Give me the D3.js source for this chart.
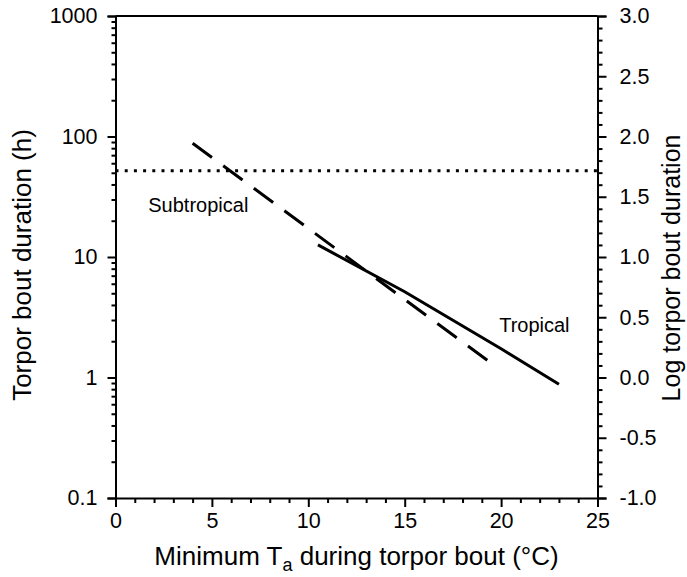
<!DOCTYPE html>
<html>
<head>
<meta charset="utf-8">
<script src="https://cdn.jsdelivr.net/npm/d3@7"></script>
<style>
  html, body { margin: 0; padding: 0; background: #fff; }
  text { font-family: "Liberation Sans", Arial, Helvetica, sans-serif; fill: #000; }
</style>
</head>
<body>
<svg id="chart" width="687" height="577"></svg>
<script>
// ---- data ----
const xTicks = [0, 5, 10, 15, 20, 25];
const yLeftTicks = [0.1, 1, 10, 100, 1000];
const yRightTicks = [-1.0, -0.5, 0.0, 0.5, 1.0, 1.5, 2.0, 2.5, 3.0];

const tropicalTa = [10.5, 15, 20, 23];
const tropicalDur = [12.6, 5.15, 1.73, 0.88];

const subtropicalTa = [4, 19.5];
const subtropicalDur = [88, 1.31];

const thresholdTa = [0, 25];
const thresholdDur = [52, 52];

const labelNames = ["Subtropical", "Tropical"];
const labelTa = [1.7, 19.9];
const labelDur = [23.6, 2.39];

// ---- layout ----
const svg = d3.select("#chart");
const L = 115.5, R = 597.5, T = 16, B = 498;

const x = d3.scaleLinear().domain([0, 25]).range([L, R]);
const y = d3.scaleLog().domain([0.1, 1000]).range([B, T]);
const yR = d3.scaleLinear().domain([-1, 3]).range([B, T]);

const tickFont = "21.5px";

// bottom axis
const xMinor = d3.range(0, 25.001, 1).filter(v => v % 5 !== 0);
const gx = svg.append("g").attr("transform", `translate(0,${B})`);
gx.call(d3.axisBottom(x).tickValues(xMinor).tickSize(5).tickFormat(""));
gx.call(g => g.select(".domain").remove());
const gx2 = svg.append("g").attr("transform", `translate(0,${B})`);
gx2.call(d3.axisBottom(x).tickValues(xTicks).tickSize(9).tickPadding(6).tickFormat(d3.format("d")));
gx2.selectAll("text").style("font-size", tickFont);

// left axis
const yMinor = [];
[0.1, 1, 10, 100].forEach(d => { for (let k = 2; k <= 9; k++) yMinor.push(d * k); });
const gy = svg.append("g").attr("transform", `translate(${L},0)`);
gy.call(d3.axisLeft(y).tickValues(yMinor).tickSize(4).tickFormat(""));
gy.call(g => g.select(".domain").remove());
const gy2 = svg.append("g").attr("transform", `translate(${L},0)`);
gy2.call(d3.axisLeft(y).tickValues(yLeftTicks).tickSize(8).tickPadding(10).tickFormat(d => String(d)));
gy2.selectAll("text").style("font-size", tickFont);

// right axis
const yRMinor = d3.range(-10, 31, 1).map(v => v / 10).filter(v => Math.abs(v * 2 - Math.round(v * 2)) > 1e-6);
const gr = svg.append("g").attr("transform", `translate(${R},0)`);
gr.call(d3.axisRight(yR).tickValues(yRMinor).tickSize(5).tickFormat(""));
gr.call(g => g.select(".domain").remove());
const gr2 = svg.append("g").attr("transform", `translate(${R},0)`);
gr2.call(d3.axisRight(yR).tickValues(yRightTicks).tickSize(9).tickPadding(13)
  .tickFormat(d => d3.format(".1f")(d).replace("\u2212", "-")));
gr2.selectAll("text").style("font-size", tickFont);

svg.selectAll(".domain").attr("stroke-width", 2);
svg.selectAll(".tick line").attr("stroke-width", 2);

// top border
svg.append("line").attr("x1", L).attr("x2", R).attr("y1", T).attr("y2", T)
  .attr("stroke", "#000").attr("stroke-width", 2);

// lines
const line = d3.line().x(d => x(d[0])).y(d => y(d[1]));

svg.append("path")
  .datum(d3.zip(thresholdTa, thresholdDur))
  .attr("d", line).attr("fill", "none").attr("stroke", "#000")
  .attr("stroke-width", 3).attr("stroke-dasharray", "3,6.2");

svg.append("path")
  .datum(d3.zip(subtropicalTa, subtropicalDur))
  .attr("d", line).attr("fill", "none").attr("stroke", "#000")
  .attr("stroke-width", 3).attr("stroke-dasharray", "24,14");

svg.append("path")
  .datum(d3.zip(tropicalTa, tropicalDur))
  .attr("d", line).attr("fill", "none").attr("stroke", "#000")
  .attr("stroke-width", 3);

// labels
labelNames.forEach((n, i) => {
  svg.append("text").attr("x", x(labelTa[i])).attr("y", y(labelDur[i]))
    .style("font-size", "20px").text(n);
});

// axis titles
const xt = svg.append("text").attr("x", (L + R) / 2).attr("y", 565)
  .attr("text-anchor", "middle").style("font-size", "26px");
xt.append("tspan").text("Minimum T");
xt.append("tspan").attr("dy", 6).style("font-size", "18px").text("a");
xt.append("tspan").attr("dy", -6).text(" during torpor bout (\u00B0C)");

svg.append("text").attr("transform", `translate(31,265) rotate(-90)`)
  .attr("text-anchor", "middle").style("font-size", "26px")
  .text("Torpor bout duration (h)");

svg.append("text").attr("transform", `translate(680,268) rotate(-90)`)
  .attr("text-anchor", "middle").style("font-size", "25px")
  .text("Log torpor bout duration");
</script>
</body>
</html>
